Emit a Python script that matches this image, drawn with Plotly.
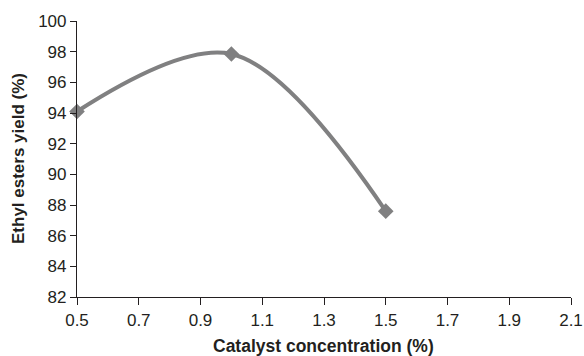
import plotly.graph_objects as go

catalyst = [0.5, 1.0, 1.5]
yield_pct = [94.1, 97.85, 87.6]
x_ticks = [0.5, 0.7, 0.9, 1.1, 1.3, 1.5, 1.7, 1.9, 2.1]
y_ticks = [82, 84, 86, 88, 90, 92, 94, 96, 98, 100]

fig = go.Figure()
fig.add_trace(go.Scatter(
    x=catalyst, y=yield_pct, mode="lines+markers",
    line=dict(color="#808081", width=4, shape="spline", smoothing=1.0),
    marker=dict(symbol="diamond", size=12, color="#808081"),
    cliponaxis=False, showlegend=False,
))

font = "Liberation Sans, Arial, Helvetica, sans-serif"
ink = "#231f20"
fig.update_layout(
    width=584, height=356,
    margin=dict(l=77, r=13, t=21, b=59, autoexpand=False),
    paper_bgcolor="white", plot_bgcolor="white",
    font=dict(family=font, size=17, color=ink),
    xaxis=dict(
        range=[0.5, 2.1], tickvals=x_ticks, ticktext=[f"{v:.1f}" for v in x_ticks],
        showgrid=False, zeroline=False, showline=True, linecolor=ink, linewidth=1.2,
        ticks="outside", ticklen=7, tickcolor=ink, automargin=False,
        tickfont=dict(size=17),
    ),
    yaxis=dict(
        range=[82, 100], tickvals=y_ticks,
        showgrid=False, zeroline=False, showline=True, linecolor=ink, linewidth=1.2,
        ticks="outside", ticklen=6, tickcolor=ink, automargin=False,
        tickfont=dict(size=17),
    ),
    annotations=[
        dict(text="<b>Catalyst concentration (%)</b>", xref="paper", yref="paper",
             x=0.5 * (208 - 77 + 439 - 77) / 494, y=0, yshift=-49, showarrow=False,
             xanchor="center", yanchor="middle", font=dict(size=17.5, color=ink)),
        dict(text="<b>Ethyl esters yield (%)</b>", xref="paper", yref="paper",
             x=0, xshift=-59, y=(297 - 159) / 276, showarrow=False, textangle=-90,
             xanchor="center", yanchor="middle", font=dict(size=17, color=ink)),
    ],
)
fig.write_html(
    "out.html",
    config={"displayModeBar": False},
    post_script="document.body.style.margin='0';document.body.style.overflow='hidden';",
)
